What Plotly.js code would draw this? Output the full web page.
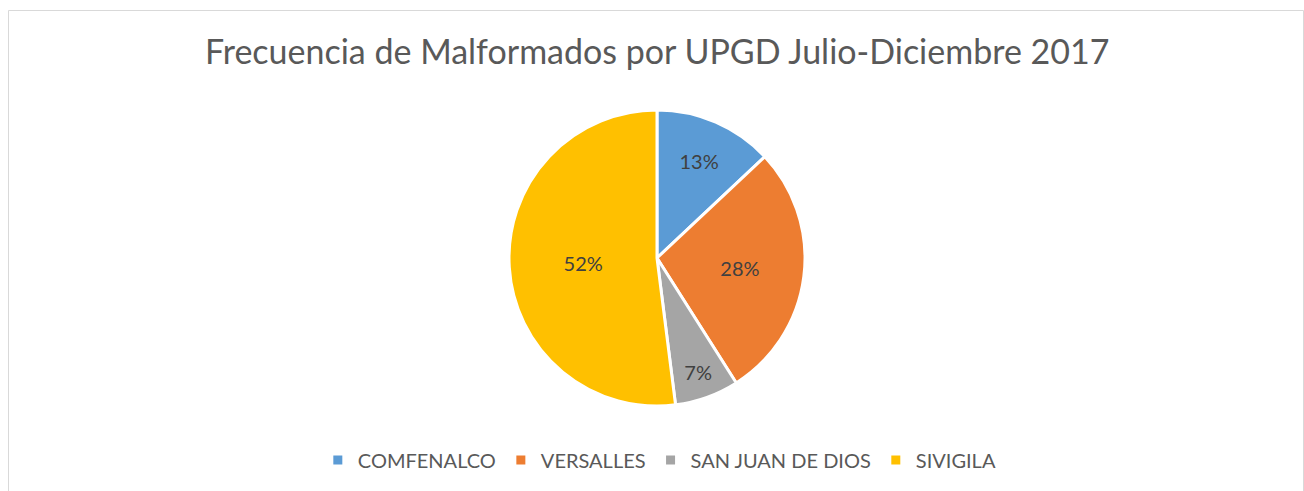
<!DOCTYPE html>
<html>
<head>
<meta charset="utf-8">
<script src="https://cdn.plot.ly/plotly-3.0.1.min.js"></script>
<style>html,body{margin:0;padding:0;background:#fff;}#chart{width:1304px;height:491px;}</style>
</head>
<body>
<div id="chart"></div>
<script>
var categories = ["COMFENALCO", "VERSALLES", "SAN JUAN DE DIOS", "SIVIGILA"];
var values = [13, 28, 7, 52];
var colors = ["#5B9BD5", "#ED7D31", "#A5A5A5", "#FFC000"];
var titleText = "Frecuencia de Malformados por UPGD Julio-Diciembre 2017";

var W = 1304, H = 491;
var trace = {
  type: "pie",
  labels: categories,
  values: values,
  sort: false,
  direction: "clockwise",
  rotation: 0,
  marker: {colors: colors, line: {color: "#ffffff", width: 3}},
  textinfo: "percent",
  textposition: "inside",
  insidetextorientation: "horizontal",
  textfont: {family: "Lato, sans-serif", size: 20, color: "#404040"},
  domain: {x: [509 / W, 805 / W], y: [1 - 406 / H, 1 - 110 / H]},
  hoverinfo: "label+percent"
};

var layout = {
  width: W, height: H,
  margin: {l: 0, r: 0, t: 0, b: 0},
  paper_bgcolor: "#ffffff",
  showlegend: true,
  title: {
    text: titleText,
    font: {family: "Lato, sans-serif", size: 34, color: "#595959"},
    x: 0.504, xanchor: "center",
    y: 1 - 52 / H, yref: "container", yanchor: "middle"
  },
  legend: {
    orientation: "h",
    x: 0.506, xanchor: "center",
    y: 1 - 460 / H, yanchor: "middle",
    font: {family: "Lato, sans-serif", size: 20, color: "#595959"},
    itemwidth: 30,
    traceorder: "normal"
  },
  shapes: [{
    type: "rect", xref: "paper", yref: "paper",
    x0: 8.5 / W, x1: 1303.5 / W, y0: -0.2, y1: 1 - 10.5 / H,
    line: {color: "#d9d9d9", width: 1}, fillcolor: "rgba(0,0,0,0)", layer: "below"
  }]
};

Plotly.newPlot("chart", [trace], layout, {displayModeBar: false, staticPlot: true});
</script>
</body>
</html>
